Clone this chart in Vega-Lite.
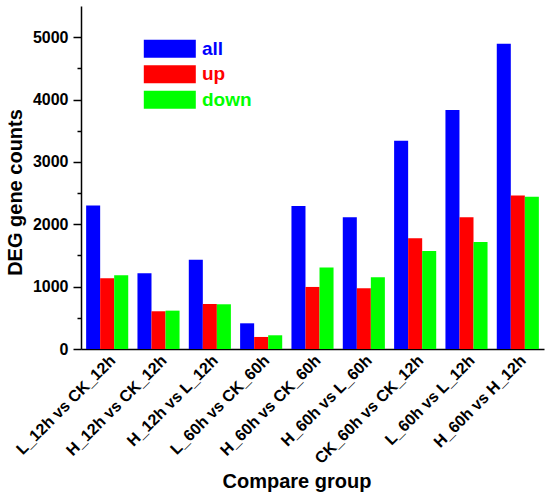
{
  "$schema": "https://vega.github.io/schema/vega-lite/v6.json",
  "width": 463,
  "height": 343,
  "autosize": "none",
  "padding": {"left": 81, "top": 6, "right": 6, "bottom": 150},
  "config": {
    "view": {"stroke": null},
    "font": "Liberation Sans",
    "axis": {"labelFont": "Liberation Sans", "titleFont": "Liberation Sans", "labelFontWeight": "bold", "titleFontWeight": "bold", "labelColor": "black", "titleColor": "black", "domainColor": "black", "tickColor": "black", "grid": false}
  },
  "data": {
    "values": [
      {"group": "L_12h vs CK_12h", "type": "all", "count": 2300},
      {"group": "L_12h vs CK_12h", "type": "up", "count": 1135},
      {"group": "L_12h vs CK_12h", "type": "down", "count": 1183},
      {"group": "H_12h vs CK_12h", "type": "all", "count": 1215},
      {"group": "H_12h vs CK_12h", "type": "up", "count": 605},
      {"group": "H_12h vs CK_12h", "type": "down", "count": 615},
      {"group": "H_12h vs L_12h", "type": "all", "count": 1433},
      {"group": "H_12h vs L_12h", "type": "up", "count": 722},
      {"group": "H_12h vs L_12h", "type": "down", "count": 717},
      {"group": "L_60h vs CK_60h", "type": "all", "count": 412},
      {"group": "L_60h vs CK_60h", "type": "up", "count": 193},
      {"group": "L_60h vs CK_60h", "type": "down", "count": 220},
      {"group": "H_60h vs CK_60h", "type": "all", "count": 2295},
      {"group": "H_60h vs CK_60h", "type": "up", "count": 995},
      {"group": "H_60h vs CK_60h", "type": "down", "count": 1305},
      {"group": "H_60h vs L_60h", "type": "all", "count": 2114},
      {"group": "H_60h vs L_60h", "type": "up", "count": 974},
      {"group": "H_60h vs L_60h", "type": "down", "count": 1151},
      {"group": "CK_60h vs CK_12h", "type": "all", "count": 3339},
      {"group": "CK_60h vs CK_12h", "type": "up", "count": 1777},
      {"group": "CK_60h vs CK_12h", "type": "down", "count": 1573},
      {"group": "L_60h vs L_12h", "type": "all", "count": 3831},
      {"group": "L_60h vs L_12h", "type": "up", "count": 2114},
      {"group": "L_60h vs L_12h", "type": "down", "count": 1717},
      {"group": "H_60h vs H_12h", "type": "all", "count": 4896},
      {"group": "H_60h vs H_12h", "type": "up", "count": 2461},
      {"group": "H_60h vs H_12h", "type": "down", "count": 2440}
    ]
  },
  "encoding": {
    "x": {
      "field": "group", "type": "nominal", "sort": null,
      "scale": {"paddingInner": 0.18, "paddingOuter": 0.1},
      "axis": {"title": "Compare group", "labelAngle": -45, "labelFontSize": 16, "titleFontSize": 20, "ticks": false, "domainWidth": 1.5, "labelPadding": 3, "titleX": 215.5, "titleY": 138, "titleBaseline": "alphabetic", "titleAlign": "center"}
    },
    "xOffset": {"field": "type", "type": "nominal", "sort": ["all", "up", "down"], "scale": {"paddingInner": 0, "paddingOuter": 0}},
    "y": {"field": "count", "type": "quantitative", "scale": {"domain": [0, 5500], "nice": false}}
  },
  "resolve": {"axis": {"y": "independent"}},
  "layer": [
    {
      "mark": {"type": "bar"},
      "encoding": {
        "y": {"field": "count", "type": "quantitative", "scale": {"domain": [0, 5500], "nice": false},
          "axis": {"orient": "left", "title": "DEG gene counts", "format": "d", "values": [0, 1000, 2000, 3000, 4000, 5000], "labelFontSize": 16, "titleFontSize": 20, "tickSize": 8, "tickWidth": 1.5, "domainWidth": 1.5, "labelPadding": 5, "titleX": -66, "titleY": 186, "titleAlign": "center", "titleBaseline": "middle", "titleAngle": -90}},
        "color": {
          "field": "type", "type": "nominal", "sort": ["all", "up", "down"],
          "scale": {"domain": ["all", "up", "down"], "range": ["#0000FF", "#FF0000", "#00FF00"]},
          "legend": {
            "title": null, "orient": "none", "legendX": 79.3, "legendY": 33.3,
            "symbolType": "M-2.889,-1H2.889V1H-2.889Z", "symbolSize": 324, "symbolStrokeWidth": 0,
            "labelFont": "Liberation Sans", "labelFontWeight": "bold", "labelFontSize": 19,
            "labelColor": {"expr": "scale('color', datum.value)"},
            "labelOffset": 22.7, "rowPadding": 5.5
          }
        }
      }
    },
    {
      "mark": {"type": "bar", "opacity": 0},
      "encoding": {
        "y": {"field": "count", "type": "quantitative", "scale": {"domain": [0, 5500], "nice": false},
          "axis": {"orient": "left", "title": null, "labels": false, "domain": false, "values": [500, 1500, 2500, 3500, 4500], "tickSize": 4, "tickWidth": 1.5}}
      }
    }
  ]
}
